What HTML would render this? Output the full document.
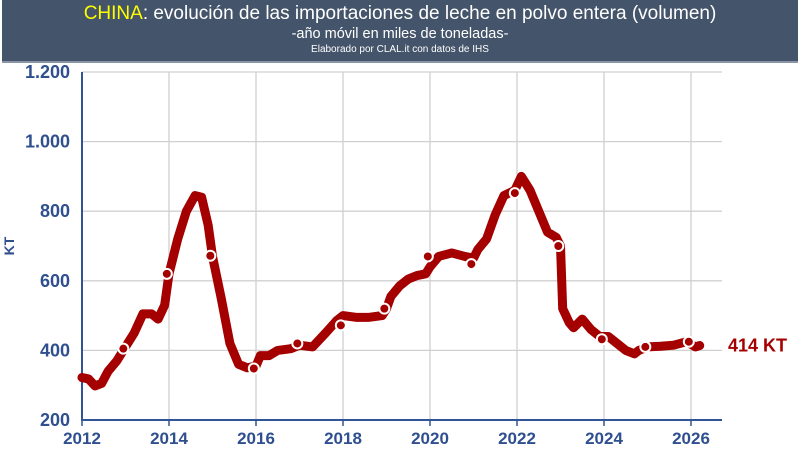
<!DOCTYPE html>
<html><head><meta charset="utf-8">
<style>
body{margin:0;width:800px;height:456px;background:#fff;overflow:hidden;font-family:"Liberation Sans",sans-serif}
#hdr{position:absolute;left:2px;top:0;width:796px;height:61px;background:#44546a;color:#fff;text-align:center;border-bottom:2px solid #8a96a6}
</style></head><body>
<div id="hdr">
<div style="font-size:19px;line-height:22px;padding-top:3px"><span style="color:#ffff00">CHINA</span>: evolución de las importaciones de leche en polvo entera (volumen)</div>
<div style="font-size:14.5px;line-height:18px">-año móvil en miles de toneladas-</div>
<div style="font-size:10px;line-height:13px">Elaborado por CLAL.it con datos de IHS</div>
</div>
<svg id="c" width="800" height="456" style="position:absolute;left:0;top:0"></svg>
<script>
const xTicks=[2012,2014,2016,2018,2020,2022,2024,2026];
const yTicks=[200,400,600,800,1000,1200];
const yLabels=["200","400","600","800","1.000","1.200"];
const years=[2012.0,2012.15,2012.3,2012.45,2012.6,2012.8,2013.0,2013.2,2013.4,2013.6,2013.75,2013.9,2014.0,2014.2,2014.4,2014.6,2014.75,2014.9,2015.0,2015.2,2015.4,2015.6,2015.8,2016.0,2016.1,2016.3,2016.5,2016.8,2017.0,2017.3,2017.6,2017.85,2018.0,2018.3,2018.6,2018.9,2019.0,2019.1,2019.3,2019.5,2019.7,2019.9,2020.0,2020.2,2020.5,2020.8,2021.0,2021.1,2021.3,2021.5,2021.7,2021.95,2022.1,2022.3,2022.5,2022.7,2022.9,2023.0,2023.05,2023.2,2023.3,2023.5,2023.7,2023.9,2024.1,2024.3,2024.5,2024.7,2024.8,2025.0,2025.3,2025.6,2025.9,2026.1,2026.2];
const values=[322,318,298,305,340,370,410,450,505,505,490,530,620,720,800,845,840,760,670,550,420,360,350,355,385,385,400,405,415,410,450,485,500,495,495,500,520,555,585,605,615,620,640,670,680,670,665,690,720,790,845,860,900,860,800,740,725,700,520,480,465,490,460,440,440,420,400,390,400,410,412,415,425,410,414];
const markerYears=[2012.95,2013.95,2014.95,2015.95,2016.95,2017.95,2018.95,2019.95,2020.95,2021.95,2022.95,2023.95,2024.95,2025.95];
const markerValues=[405,620,672,348,420,472,520,670,648,852,700,432,410,425];
const NS="http://www.w3.org/2000/svg";
const svg=document.getElementById('c');
const X=y=>82+(y-2012)*43.5;
const Y=v=>420-(v-200)*0.348;
function mk(t,a,p){const e=document.createElementNS(NS,t);for(const k in a)e.setAttribute(k,a[k]);(p||svg).appendChild(e);return e;}
yTicks.forEach((t,i)=>{
 if(i>0){const g=mk('line',{x1:82,x2:722,y1:Y(t),y2:Y(t),stroke:'#d0d0d0','stroke-width':1.3});
 
 }
 const l=mk('text',{x:70,y:Y(t)+6,'text-anchor':'end','font-size':18,'font-weight':'bold',fill:'#2f4f8f'});
 l.textContent=yLabels[i];
 
 
});
xTicks.forEach(t=>{
 if(t>2012){const g=mk('line',{x1:X(t),x2:X(t),y1:72,y2:420,stroke:'#d0d0d0','stroke-width':1.3});
 
 }
 const tk=mk('line',{x1:X(t),x2:X(t),y1:420,y2:426,stroke:'#2f5597','stroke-width':1.5});
 
 
 const l=mk('text',{x:X(t),y:444,'text-anchor':'middle','font-size':17,'font-weight':'bold',fill:'#2f4f8f'});
 l.textContent=t;
 
 
});
const ya=mk('line',{x1:82,x2:82,y1:72,y2:421,stroke:'#2f5597','stroke-width':2});


const xa=mk('line',{x1:81,x2:722,y1:420,y2:420,stroke:'#2f5597','stroke-width':2});


const yt=mk('text',{x:14,y:246,'text-anchor':'middle','font-size':14,'font-weight':'bold',fill:'#2f4f8f',transform:'rotate(-90 14 246)'});
yt.textContent='KT';


const p=mk('polyline',{points:years.map((y,i)=>X(y)+','+Y(values[i])).join(' '),fill:'none',stroke:'#a50000','stroke-width':9,'stroke-linejoin':'round','stroke-linecap':'round'});


markerYears.forEach((y,i)=>{
 const c=mk('circle',{cx:X(y),cy:Y(markerValues[i]),r:5,fill:'#a50000',stroke:'#fff','stroke-width':2});
 
 
});
const lab=mk('text',{x:728,y:Y(values[values.length-1])+6,'font-size':18,'font-weight':'bold',fill:'#a50000'});
lab.textContent='414 KT';


</script>
</body></html>
